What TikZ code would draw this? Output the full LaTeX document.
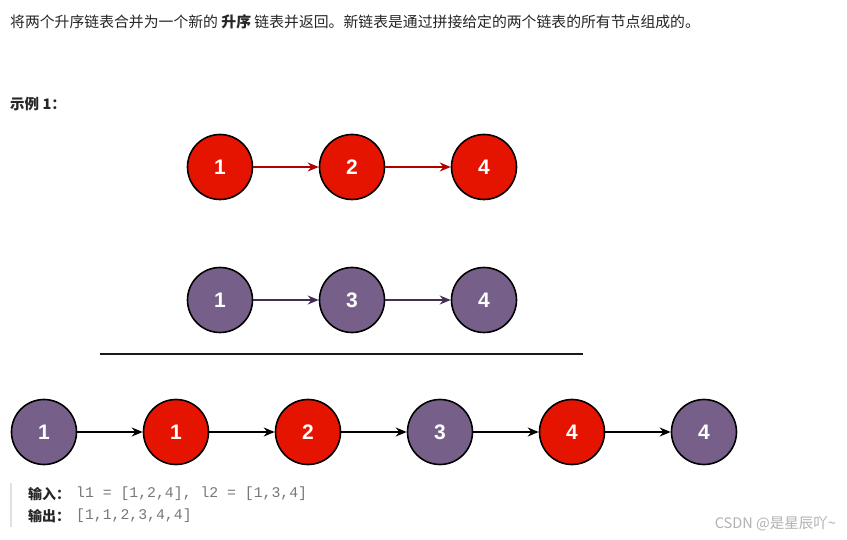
\documentclass[tikz,border=0pt]{standalone}
\usepackage{fontspec}
\setmainfont{Liberation Sans}
\setmonofont{Liberation Mono}
\newfontfamily\cjk{Noto Sans CJK SC}
\usetikzlibrary{arrows.meta}
\definecolor{nred}{HTML}{E51400}
\definecolor{npurple}{HTML}{76608A}
\definecolor{ared}{HTML}{B20000}
\definecolor{apurple}{HTML}{432D57}
\definecolor{codegray}{HTML}{777777}
\tikzset{
  lnode/.style={circle, draw=black, line width=1.6pt, minimum size=65pt, inner sep=0pt,
     text=white, font=\fontsize{21}{24}\selectfont\bfseries},
  rednode/.style={lnode, fill=nred},
  purnode/.style={lnode, fill=npurple},
  link/.style={-{Stealth[length=11pt,width=9pt]}, line width=1.5pt},
}
\begin{document}
\begin{tikzpicture}[x=1pt,y=-1pt]
\useasboundingbox (0,0) rectangle (847,540);
\fill[white] (0,0) rectangle (847,540);
% header
\node[anchor=west, inner sep=0pt, font=\cjk\fontsize{14.85}{17}\selectfont, text=black!85] (title) at (10,22)
  {将两个升序链表合并为一个新的 \textbf{升序} 链表并返回。新链表是通过拼接给定的两个链表的所有节点组成的。};
\node[anchor=west, inner sep=0pt, font=\cjk\fontsize{14.5}{17}\selectfont\bfseries, text=black!85] (ex) at (10,104) {示例 1：};
% list 1
\node[rednode] (a1) at (220,167) {1};
\node[rednode] (a2) at (352,167) {2};
\node[rednode] (a3) at (484,167) {4};
\draw[link, ared] (a1) -- (a2);
\draw[link, ared] (a2) -- (a3);
% list 2
\node[purnode] (b1) at (220,300) {1};
\node[purnode] (b3) at (352,300) {3};
\node[purnode] (b4) at (484,300) {4};
\draw[link, apurple] (b1) -- (b3);
\draw[link, apurple] (b3) -- (b4);
% divider
\coordinate (l0) at (100,354);
\coordinate (l1) at (583,354);
\draw[line width=2pt, black!90] (l0) -- (l1);
% merged list
\node[purnode] (c1) at (44,432) {1};
\node[rednode] (c2) at (176,432) {1};
\node[rednode] (c3) at (308,432) {2};
\node[purnode] (c4) at (440,432) {3};
\node[rednode] (c5) at (572,432) {4};
\node[purnode] (c6) at (704,432) {4};
\foreach \p/\q in {c1/c2,c2/c3,c3/c4,c4/c5,c5/c6}
  \draw[link, black] (\p) -- (\q);
% example box
\coordinate (bar0) at (11,483);
\coordinate (bar1) at (11,527);
\draw[line width=2.5pt, black!12] (bar0) -- (bar1);
\node[anchor=west, inner sep=0pt, font=\cjk\fontsize{14}{16}\selectfont\bfseries, text=black!85] (in) at (28,494) {输入：};
\node[anchor=west, inner sep=0pt, font=\ttfamily\fontsize{14.8}{16}\selectfont, text=codegray] (inv) at (76,494) {l1 = [1,2,4], l2 = [1,3,4]};
\node[anchor=west, inner sep=0pt, font=\cjk\fontsize{14}{16}\selectfont\bfseries, text=black!85] (out) at (28,516) {输出：};
\node[anchor=west, inner sep=0pt, font=\ttfamily\fontsize{14.8}{16}\selectfont, text=codegray] (outv) at (76,516) {[1,1,2,3,4,4]};
% watermark
\node[anchor=east, inner sep=0pt, font=\cjk\fontsize{14.5}{16}\selectfont, text=black!30] (wm) at (836,524) {CSDN @是星辰吖\textasciitilde};
\end{tikzpicture}
\end{document}
